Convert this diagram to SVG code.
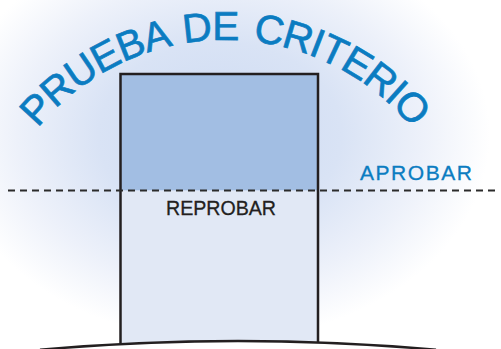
<svg xmlns="http://www.w3.org/2000/svg" width="501" height="349" viewBox="0 0 501 349">
  <defs>
    <radialGradient id="glow" gradientUnits="userSpaceOnUse" cx="220" cy="135" r="270" gradientTransform="translate(220 135) scale(1 0.76) translate(-220 -135)">
      <stop offset="0" stop-color="#ccdaf2"/>
      <stop offset="0.45" stop-color="#d9e3f5"/>
      <stop offset="0.75" stop-color="#edf1fa"/>
      <stop offset="1" stop-color="#ffffff"/>
    </radialGradient>
    <path id="arc" d="M 30.9 136.8 A 243 243 0 0 1 419.1 136.8"/>
    <style>
      .title { font-family: "Liberation Sans", Arial, sans-serif; font-size: 40.5px; fill: #0b7cc1; stroke: #0b7cc1; stroke-width: 0.7px; word-spacing: 4px; }
      .lbl { font-family: "Liberation Sans", Arial, sans-serif; font-size: 21px; }
      .edge { stroke: #231f20; stroke-width: 2.5; fill: none; }
    </style>
  </defs>

  <rect x="0" y="0" width="501" height="349" fill="#ffffff"/>
  <rect id="background-glow" x="0" y="0" width="501" height="349" fill="url(#glow)"/>

  <g id="title">
    <text class="title"><textPath href="#arc" startOffset="11" textLength="428" lengthAdjust="spacing">PRUEBA DE CRITERIO</textPath></text>
  </g>

  <g id="bar">
    <path d="M 120.5 74 H 318 V 190.5 H 120.5 Z" fill="#a2bee3"/>
    <path d="M 120.5 190.5 H 318 V 342.4 L 238 341 L 120.5 344.1 Z" fill="#e1e8f5"/>
    <path class="edge" d="M 120.5 344 V 74 H 318 V 342.5"/>
  </g>

  <g id="connectors">
    <line x1="8" y1="190.5" x2="498" y2="190.5" stroke="#2b2b2b" stroke-width="2" stroke-dasharray="7 5"/>
    <path id="ground" class="edge" d="M 40 349.8 Q 238 332.2 436 349.8"/>
  </g>

  <g id="aprobar">
    <text class="lbl" x="360" y="180" fill="#0b7cc1" stroke="#0b7cc1" stroke-width="0.3" textLength="112" lengthAdjust="spacing">APROBAR</text>
  </g>
  <g id="reprobar">
    <text class="lbl" x="166" y="214.5" fill="#231f20" stroke="#231f20" stroke-width="0.3" textLength="110" lengthAdjust="spacingAndGlyphs">REPROBAR</text>
  </g>
</svg>
